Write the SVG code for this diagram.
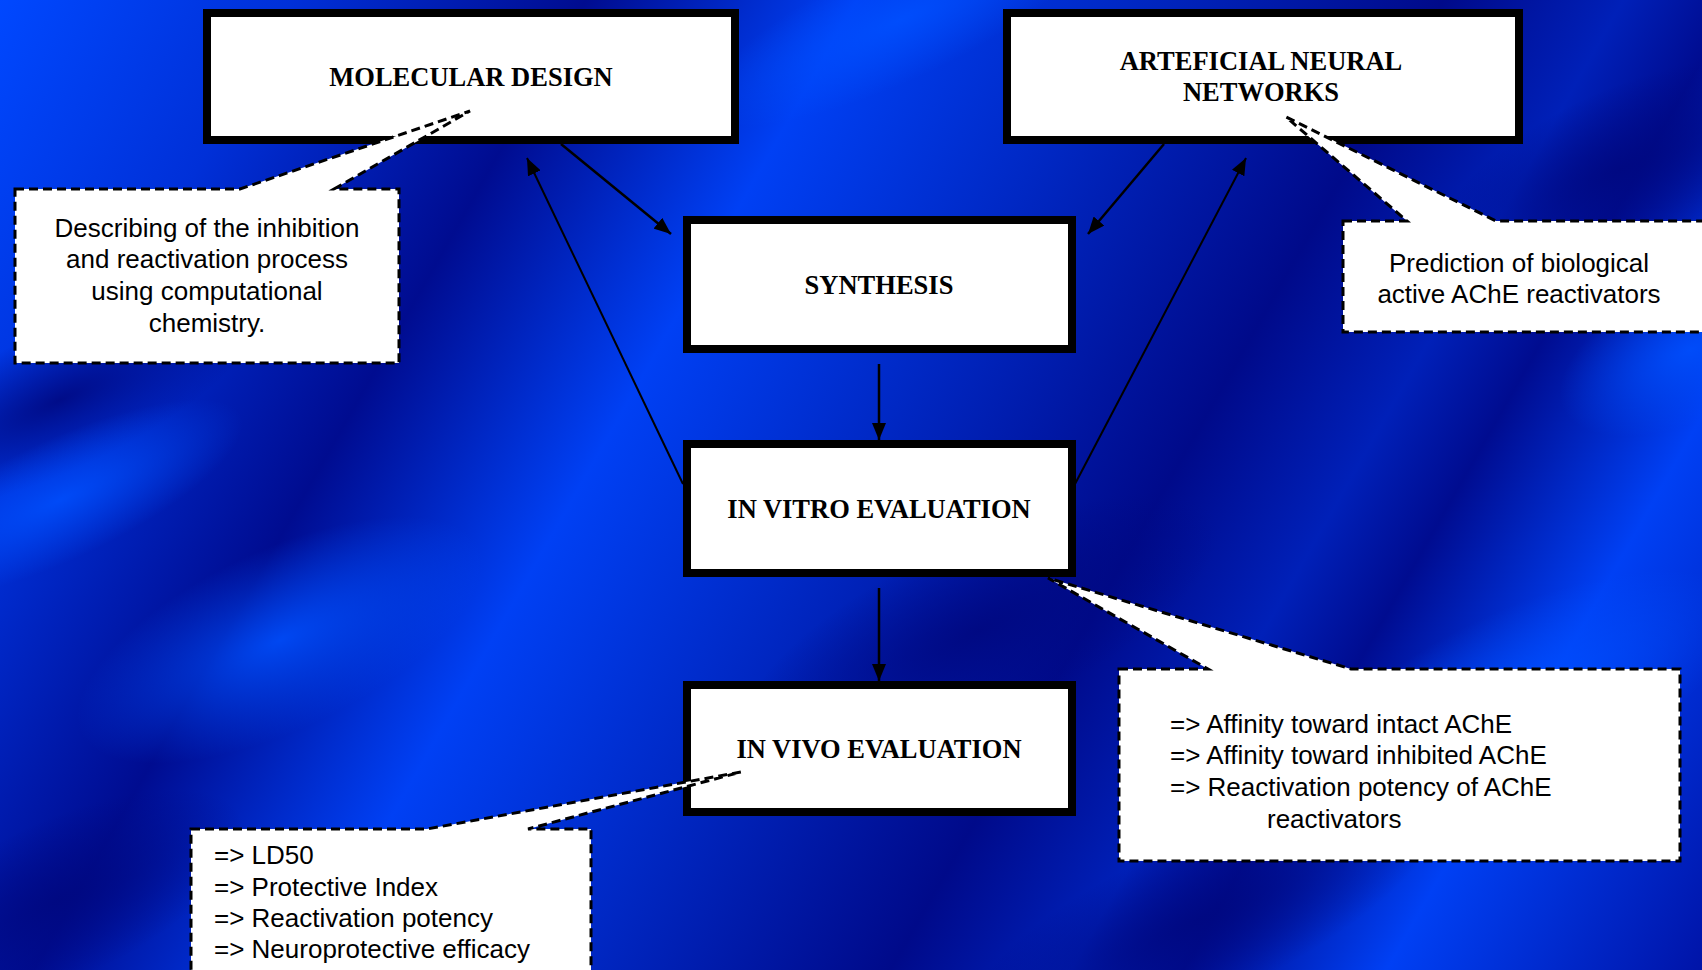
<svg xmlns="http://www.w3.org/2000/svg" width="1702" height="970" viewBox="0 0 1702 970">
  <defs>
    <linearGradient id="bg" gradientUnits="userSpaceOnUse" x1="0" y1="0" x2="1702" y2="970">
      <stop offset="0" stop-color="#0048ff"/>
      <stop offset="0.13" stop-color="#0030d8"/>
      <stop offset="0.26" stop-color="#000c90"/>
      <stop offset="0.38" stop-color="#0040f4"/>
      <stop offset="0.5" stop-color="#0028c4"/>
      <stop offset="0.64" stop-color="#000a8a"/>
      <stop offset="0.72" stop-color="#0020b8"/>
      <stop offset="0.77" stop-color="#000c90"/>
      <stop offset="0.86" stop-color="#0040f4"/>
      <stop offset="1" stop-color="#0014a8"/>
    </linearGradient>
    <radialGradient id="dk">
      <stop offset="0" stop-color="#000880" stop-opacity="0.9"/>
      <stop offset="1" stop-color="#000880" stop-opacity="0"/>
    </radialGradient>
    <radialGradient id="br">
      <stop offset="0" stop-color="#0050ff" stop-opacity="0.85"/>
      <stop offset="1" stop-color="#0050ff" stop-opacity="0"/>
    </radialGradient>
    <marker id="arr" markerUnits="userSpaceOnUse" markerWidth="18" markerHeight="14" refX="17" refY="7" orient="auto">
      <path d="M0,0 L17,7 L0,14 Z" fill="#000"/>
    </marker>
    <style>
      .box { fill: #fff; stroke: #000; stroke-width: 8; }
      .lbl { font-family: "Liberation Serif", "Times New Roman", serif; font-weight: bold; font-size: 26.5px; fill: #000; text-anchor: middle; }
      .call { fill: #fff; stroke: #000; stroke-width: 3; stroke-dasharray: 9 5; stroke-linejoin: miter; }
      .ct { font-family: "Liberation Sans", Arial, sans-serif; font-size: 26px; fill: #000; }
      .mid { text-anchor: middle; }
      .con { stroke: #000; fill: none; marker-end: url(#arr); }
    </style>
  </defs>

  <rect x="0" y="0" width="1702" height="970" fill="url(#bg)"/>
  <g id="background-texture">
    <ellipse cx="60" cy="400" rx="220" ry="70" transform="rotate(-25 60 400)" fill="url(#dk)"/>
    <ellipse cx="60" cy="500" rx="200" ry="60" transform="rotate(-25 60 500)" fill="url(#br)"/>
    <ellipse cx="280" cy="640" rx="220" ry="90" transform="rotate(-25 280 640)" fill="url(#br)"/>
    <ellipse cx="60" cy="900" rx="200" ry="80" transform="rotate(-25 60 900)" fill="url(#dk)"/>
    <ellipse cx="980" cy="630" rx="260" ry="90" transform="rotate(-25 980 630)" fill="url(#dk)"/>
    <ellipse cx="1520" cy="700" rx="240" ry="90" transform="rotate(-25 1520 700)" fill="url(#br)"/>
    <ellipse cx="1620" cy="170" rx="200" ry="80" transform="rotate(-25 1620 170)" fill="url(#dk)"/>
    <ellipse cx="1690" cy="350" rx="140" ry="70" transform="rotate(-25 1690 350)" fill="url(#br)"/>
    <ellipse cx="900" cy="20" rx="220" ry="60" transform="rotate(-25 900 20)" fill="url(#br)"/>
    <ellipse cx="1200" cy="920" rx="260" ry="80" transform="rotate(-25 1200 920)" fill="url(#dk)"/>
  </g>

  <g id="molecular-design">
    <rect class="box" x="207" y="13" width="528" height="127"/>
    <text class="lbl" x="471" y="86">MOLECULAR DESIGN</text>
  </g>

  <g id="ann">
    <rect class="box" x="1007" y="13" width="512" height="127"/>
    <text class="lbl" x="1261" y="70">ARTEFICIAL NEURAL</text>
    <text class="lbl" x="1261" y="101">NETWORKS</text>
  </g>

  <g id="synthesis">
    <rect class="box" x="687" y="220" width="385" height="129"/>
    <text class="lbl" x="879" y="294">SYNTHESIS</text>
  </g>

  <g id="in-vitro">
    <rect class="box" x="687" y="444" width="385" height="129"/>
    <text class="lbl" x="879" y="518">IN VITRO EVALUATION</text>
  </g>

  <g id="in-vivo">
    <rect class="box" x="687" y="685" width="385" height="127"/>
    <text class="lbl" x="879" y="758">IN VIVO EVALUATION</text>
  </g>

  <g id="connectors">
    <line class="con" x1="561" y1="144" x2="671" y2="234" stroke-width="2.5"/>
    <line class="con" x1="683" y1="484" x2="527" y2="158" stroke-width="2"/>
    <line class="con" x1="1164" y1="144" x2="1088" y2="234" stroke-width="2.5"/>
    <line class="con" x1="1075" y1="484" x2="1246" y2="158" stroke-width="2"/>
    <line class="con" x1="879" y1="364" x2="879" y2="440" stroke-width="2.5"/>
    <line class="con" x1="879" y1="588" x2="879" y2="681" stroke-width="2.5"/>
  </g>

  <g id="callout-molecular">
    <path class="call" d="M15,189 L240,189 L470,111 L334,189 L399,189 L399,363 L15,363 Z"/>
    <text class="ct mid" x="207" y="237">Describing of the inhibition</text>
    <text class="ct mid" x="207" y="268">and reactivation process</text>
    <text class="ct mid" x="207" y="300">using computational</text>
    <text class="ct mid" x="207" y="332">chemistry.</text>
  </g>

  <g id="callout-ann">
    <path class="call" d="M1343,221 L1407,221 L1286,117 L1496,221 L1712,221 L1712,332 L1343,332 Z"/>
    <text class="ct mid" x="1519" y="272">Prediction of biological</text>
    <text class="ct mid" x="1519" y="303">active AChE reactivators</text>
  </g>

  <g id="callout-in-vitro">
    <path class="call" d="M1119,669 L1208,669 L1048,578 L1351,669 L1680,669 L1680,861 L1119,861 Z"/>
    <text class="ct" x="1170" y="733">=&gt; Affinity toward intact AChE</text>
    <text class="ct" x="1170" y="764">=&gt; Affinity toward inhibited AChE</text>
    <text class="ct" x="1170" y="796">=&gt; Reactivation potency of AChE</text>
    <text class="ct" x="1267" y="828">reactivators</text>
  </g>

  <g id="callout-in-vivo">
    <path class="call" d="M191,829 L427,829 L741,772 L528,829 L591,829 L591,980 L191,980 Z"/>
    <text class="ct" x="214" y="864">=&gt; LD50</text>
    <text class="ct" x="214" y="896">=&gt; Protective Index</text>
    <text class="ct" x="214" y="927">=&gt; Reactivation potency</text>
    <text class="ct" x="214" y="958">=&gt; Neuroprotective efficacy</text>
  </g>
</svg>
